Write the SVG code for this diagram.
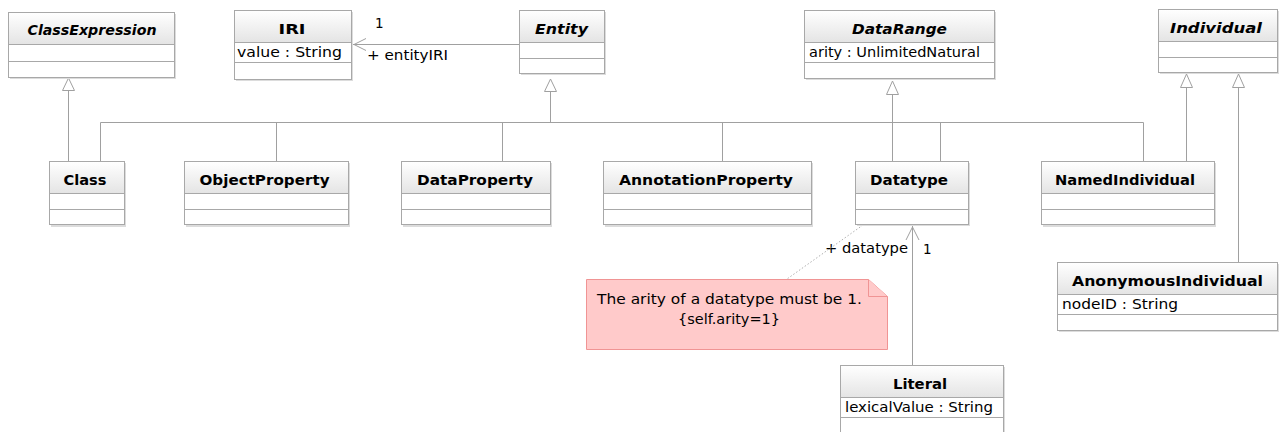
<svg xmlns="http://www.w3.org/2000/svg" width="1283" height="432" viewBox="0 0 1283 432">
  <defs>
    <linearGradient id="hdrGrad" x1="0" y1="0" x2="0" y2="1">
      <stop offset="0" stop-color="#ffffff"/>
      <stop offset="1" stop-color="#e4e4e4"/>
    </linearGradient>
  </defs>
  <style>
    .shadow { fill: #dcdcdc; }
    .box { fill: #ffffff; stroke: #a8a8a8; stroke-width: 1; }
    .hdr { fill: url(#hdrGrad); stroke: #a8a8a8; stroke-width: 1; }
    .sep { stroke: #a8a8a8; stroke-width: 1; }
    .name { font-family: "DejaVu Sans", Verdana, sans-serif; font-weight: bold; font-size: 13.5px; fill: #000; text-anchor: middle; }
    .abs { font-style: italic; }
    .attr { font-family: "DejaVu Sans", Verdana, sans-serif; font-size: 13.5px; fill: #000; }
    .lbl { font-family: "DejaVu Sans", Verdana, sans-serif; font-size: 13.5px; fill: #000; }
    .conn { fill: none; stroke: #a0a0a0; stroke-width: 1; }
    .tri { fill: #ffffff; stroke: #a0a0a0; stroke-width: 1; }
    .dot { fill: none; stroke: #b0b0b0; stroke-width: 1; stroke-dasharray: 1.5 2; }
    .note { fill: #ffcaca; stroke: #f09494; stroke-width: 1; }
  </style>

  <!-- connectors -->
  <g id="connectors">
    <!-- generalizations: Class -> ClassExpression -->
    <line class="conn" x1="68.5" y1="90" x2="68.5" y2="161"/>
    <polygon class="tri" points="68.5,78 62.5,90.5 74.5,90.5"/>
    <!-- generalization tree to Entity -->
    <line class="conn" x1="550.5" y1="91" x2="550.5" y2="122.5"/>
    <polygon class="tri" points="550.5,79 544.5,91.5 556.5,91.5"/>
    <polyline class="conn" points="100.5,161 100.5,122.5 1143.5,122.5 1143.5,161"/>
    <line class="conn" x1="276.5" y1="122.5" x2="276.5" y2="161"/>
    <line class="conn" x1="502.5" y1="122.5" x2="502.5" y2="161"/>
    <line class="conn" x1="722.5" y1="122.5" x2="722.5" y2="161"/>
    <line class="conn" x1="940.5" y1="122.5" x2="940.5" y2="161"/>
    <!-- Datatype -> DataRange -->
    <line class="conn" x1="892.5" y1="94" x2="892.5" y2="161"/>
    <polygon class="tri" points="892.5,81 886.5,94.5 898.5,94.5"/>
    <!-- NamedIndividual / AnonymousIndividual -> Individual -->
    <line class="conn" x1="1186.5" y1="87" x2="1186.5" y2="161"/>
    <polygon class="tri" points="1186.5,74 1180.5,87.5 1192.5,87.5"/>
    <line class="conn" x1="1238.5" y1="87" x2="1238.5" y2="262"/>
    <polygon class="tri" points="1238.5,74 1232.5,87.5 1244.5,87.5"/>
    <!-- Entity -> IRI association -->
    <line class="conn" x1="353" y1="44.5" x2="519" y2="44.5"/>
    <polyline class="conn" points="366,38.5 354,44.5 366,50.5"/>
    <text class="lbl" x="375" y="28">1</text>
    <text class="lbl" x="367" y="60" textLength="81" lengthAdjust="spacingAndGlyphs">+ entityIRI</text>
    <!-- Literal -> Datatype association -->
    <line class="conn" x1="912.5" y1="226" x2="912.5" y2="365"/>
    <polyline class="conn" points="906,240 912.5,227 919,240"/>
    <text class="lbl" x="825" y="253" textLength="83" lengthAdjust="spacingAndGlyphs">+ datatype</text>
    <text class="lbl" x="923" y="254">1</text>
    <!-- note anchor -->
    <line class="dot" x1="863" y1="225" x2="787" y2="279"/>
  </g>

  <g id="ClassExpression">
    <rect class="shadow" x="10" y="14" width="166" height="65"/>
    <rect class="box" x="8.5" y="12.5" width="166" height="65"/>
    <rect class="hdr" x="8.5" y="12.5" width="166" height="32"/>
    <line class="sep" x1="8.5" y1="61.5" x2="174.5" y2="61.5"/>
    <text class="name abs" x="92" y="35" textLength="129" lengthAdjust="spacingAndGlyphs">ClassExpression</text>
  </g>

  <g id="IRI">
    <rect class="shadow" x="236" y="12" width="117" height="69"/>
    <rect class="box" x="234.5" y="10.5" width="117" height="69"/>
    <rect class="hdr" x="234.5" y="10.5" width="117" height="32"/>
    <line class="sep" x1="234.5" y1="62.5" x2="351.5" y2="62.5"/>
    <text class="name" x="292" y="34" textLength="27" lengthAdjust="spacingAndGlyphs">IRI</text>
    <text class="attr" x="237" y="57" textLength="105" lengthAdjust="spacingAndGlyphs">value : String</text>
  </g>

  <g id="Entity">
    <rect class="shadow" x="521" y="12" width="85" height="63"/>
    <rect class="box" x="519.5" y="10.5" width="85" height="63"/>
    <rect class="hdr" x="519.5" y="10.5" width="85" height="32"/>
    <line class="sep" x1="519.5" y1="58.5" x2="604.5" y2="58.5"/>
    <text class="name abs" x="561.5" y="34" textLength="53" lengthAdjust="spacingAndGlyphs">Entity</text>
  </g>

  <g id="DataRange">
    <rect class="shadow" x="806" y="12" width="190" height="68"/>
    <rect class="box" x="804.5" y="10.5" width="190" height="68"/>
    <rect class="hdr" x="804.5" y="10.5" width="190" height="32"/>
    <line class="sep" x1="804.5" y1="62.5" x2="994.5" y2="62.5"/>
    <text class="name abs" x="899.5" y="34" textLength="95" lengthAdjust="spacingAndGlyphs">DataRange</text>
    <text class="attr" x="809" y="57" textLength="171" lengthAdjust="spacingAndGlyphs">arity : UnlimitedNatural</text>
  </g>

  <g id="Individual">
    <rect class="shadow" x="1160" y="11" width="119" height="63"/>
    <rect class="box" x="1158.5" y="9.5" width="119" height="63"/>
    <rect class="hdr" x="1158.5" y="9.5" width="119" height="32"/>
    <line class="sep" x1="1158.5" y1="57.5" x2="1277.5" y2="57.5"/>
    <text class="name abs" x="1216" y="33" textLength="92" lengthAdjust="spacingAndGlyphs">Individual</text>
  </g>

  <g id="Class">
    <rect class="shadow" x="51" y="163" width="75" height="64"/>
    <rect class="box" x="49.5" y="161.5" width="75" height="63"/>
    <rect class="hdr" x="49.5" y="161.5" width="75" height="32"/>
    <line class="sep" x1="49.5" y1="209.5" x2="124.5" y2="209.5"/>
    <text class="name" x="85" y="185" textLength="43" lengthAdjust="spacingAndGlyphs">Class</text>
  </g>

  <g id="ObjectProperty">
    <rect class="shadow" x="186" y="163" width="164" height="64"/>
    <rect class="box" x="184.5" y="161.5" width="164" height="63"/>
    <rect class="hdr" x="184.5" y="161.5" width="164" height="32"/>
    <line class="sep" x1="184.5" y1="209.5" x2="348.5" y2="209.5"/>
    <text class="name" x="264.5" y="185" textLength="130" lengthAdjust="spacingAndGlyphs">ObjectProperty</text>
  </g>

  <g id="DataProperty">
    <rect class="shadow" x="403" y="163" width="149" height="64"/>
    <rect class="box" x="401.5" y="161.5" width="149" height="63"/>
    <rect class="hdr" x="401.5" y="161.5" width="149" height="32"/>
    <line class="sep" x1="401.5" y1="209.5" x2="550.5" y2="209.5"/>
    <text class="name" x="475" y="185" textLength="116" lengthAdjust="spacingAndGlyphs">DataProperty</text>
  </g>

  <g id="AnnotationProperty">
    <rect class="shadow" x="605" y="163" width="208" height="64"/>
    <rect class="box" x="603.5" y="161.5" width="208" height="63"/>
    <rect class="hdr" x="603.5" y="161.5" width="208" height="32"/>
    <line class="sep" x1="603.5" y1="209.5" x2="811.5" y2="209.5"/>
    <text class="name" x="706" y="185" textLength="174" lengthAdjust="spacingAndGlyphs">AnnotationProperty</text>
  </g>

  <g id="Datatype">
    <rect class="shadow" x="857" y="163" width="113" height="63"/>
    <rect class="box" x="855.5" y="161.5" width="113" height="63"/>
    <rect class="hdr" x="855.5" y="161.5" width="113" height="32"/>
    <line class="sep" x1="855.5" y1="209.5" x2="968.5" y2="209.5"/>
    <text class="name" x="909" y="185" textLength="78" lengthAdjust="spacingAndGlyphs">Datatype</text>
  </g>

  <g id="NamedIndividual">
    <rect class="shadow" x="1043" y="163" width="173" height="64"/>
    <rect class="box" x="1041.5" y="161.5" width="173" height="63"/>
    <rect class="hdr" x="1041.5" y="161.5" width="173" height="32"/>
    <line class="sep" x1="1041.5" y1="209.5" x2="1214.5" y2="209.5"/>
    <text class="name" x="1125" y="185" textLength="140" lengthAdjust="spacingAndGlyphs">NamedIndividual</text>
  </g>

  <g id="AnonymousIndividual">
    <rect class="shadow" x="1059" y="264" width="220" height="68"/>
    <rect class="box" x="1057.5" y="262.5" width="220" height="68"/>
    <rect class="hdr" x="1057.5" y="262.5" width="220" height="32"/>
    <line class="sep" x1="1057.5" y1="314.5" x2="1277.5" y2="314.5"/>
    <text class="name" x="1167.5" y="286" textLength="191" lengthAdjust="spacingAndGlyphs">AnonymousIndividual</text>
    <text class="attr" x="1062" y="309" textLength="116" lengthAdjust="spacingAndGlyphs">nodeID : String</text>
  </g>

  <g id="Literal">
    <rect class="shadow" x="842" y="367" width="163" height="75"/>
    <rect class="box" x="840.5" y="365.5" width="163" height="75"/>
    <rect class="hdr" x="840.5" y="365.5" width="163" height="32"/>
    <line class="sep" x1="840.5" y1="417.5" x2="1003.5" y2="417.5"/>
    <text class="name" x="920" y="389" textLength="54" lengthAdjust="spacingAndGlyphs">Literal</text>
    <text class="attr" x="845" y="412" textLength="148" lengthAdjust="spacingAndGlyphs">lexicalValue : String</text>
  </g>

  <g id="ArityNote">
    <path class="note" d="M586.5,279.5 H868.5 L887.5,296.5 V349.5 H586.5 Z"/>
    <path class="note" d="M868.5,279.5 V296.5 H887.5"/>
    <text class="lbl" x="729.5" y="304" text-anchor="middle" textLength="265" lengthAdjust="spacingAndGlyphs">The arity of a datatype must be 1.</text>
    <text class="lbl" x="729" y="324" text-anchor="middle" textLength="102" lengthAdjust="spacingAndGlyphs">{self.arity=1}</text>
  </g>
</svg>
